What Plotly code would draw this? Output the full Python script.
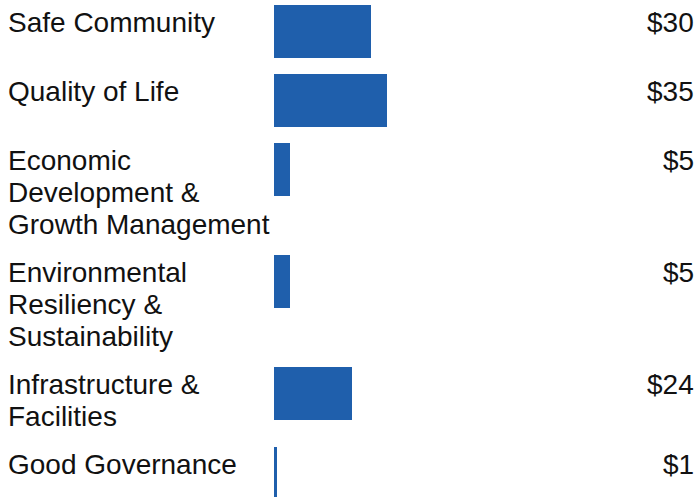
import plotly.graph_objects as go

# Budget allocation by priority area (dollars)
categories = [
    "Safe Community",
    "Quality of Life",
    "Economic<br>Development &<br>Growth Management",
    "Environmental<br>Resiliency &<br>Sustainability",
    "Infrastructure &<br>Facilities",
    "Good Governance",
]
values = [30, 35, 5, 5, 24, 1]
value_labels = ["$30", "$35", "$5", "$5", "$24", "$1"]

W, H = 698, 497
FONT = "Liberation Sans, Arial, sans-serif"
FONT_SIZE = 28
LINE_H = 32          # pixel height of one label line
BAR_H = 53           # bar thickness in pixels
GAP = 16             # space between rows
TOP = 5
TEXT_NUDGE = 0.3     # baseline alignment of text against bar tops
BAR_LEFT = 274
PX_PER_UNIT = 3.23
BLUE = "#1f5fac"
INK = "#111111"

# Row tops follow the number of lines in each label
tops = []
y = TOP
for c in categories:
    tops.append(y)
    n = c.count("<br>") + 1
    y += max(n * LINE_H, BAR_H) + GAP
centers = [t + BAR_H / 2 for t in tops]

fig = go.Figure(
    go.Bar(
        x=values,
        y=centers,
        width=BAR_H,
        orientation="h",
        marker=dict(color=BLUE, line=dict(width=0)),
        hoverinfo="skip",
    )
)

font = dict(family=FONT, size=FONT_SIZE, color=INK)
annotations = []
for c, v, t in zip(categories, value_labels, tops):
    # one annotation per label line keeps line spacing tight
    for i, line in enumerate(c.split("<br>")):
        annotations.append(dict(
            text=line, xref="paper", x=6 / W, xanchor="left",
            yref="y", y=t + TEXT_NUDGE + i * LINE_H, yanchor="top",
            align="left", showarrow=False, font=font,
        ))
    annotations.append(dict(
        text=v, xref="paper", x=696 / W, xanchor="right",
        yref="y", y=t + TEXT_NUDGE, yanchor="top", align="right",
        showarrow=False, font=font,
    ))

fig.update_layout(
    width=W, height=H,
    margin=dict(l=0, r=0, t=0, b=0),
    paper_bgcolor="white", plot_bgcolor="white",
    showlegend=False,
    bargap=0,
    xaxis=dict(domain=[BAR_LEFT / W, 1], range=[0, (W - BAR_LEFT) / PX_PER_UNIT],
               visible=False, fixedrange=True),
    yaxis=dict(range=[H, 0], visible=False, fixedrange=True),
    annotations=annotations,
)

fig.write_html("out.html")
